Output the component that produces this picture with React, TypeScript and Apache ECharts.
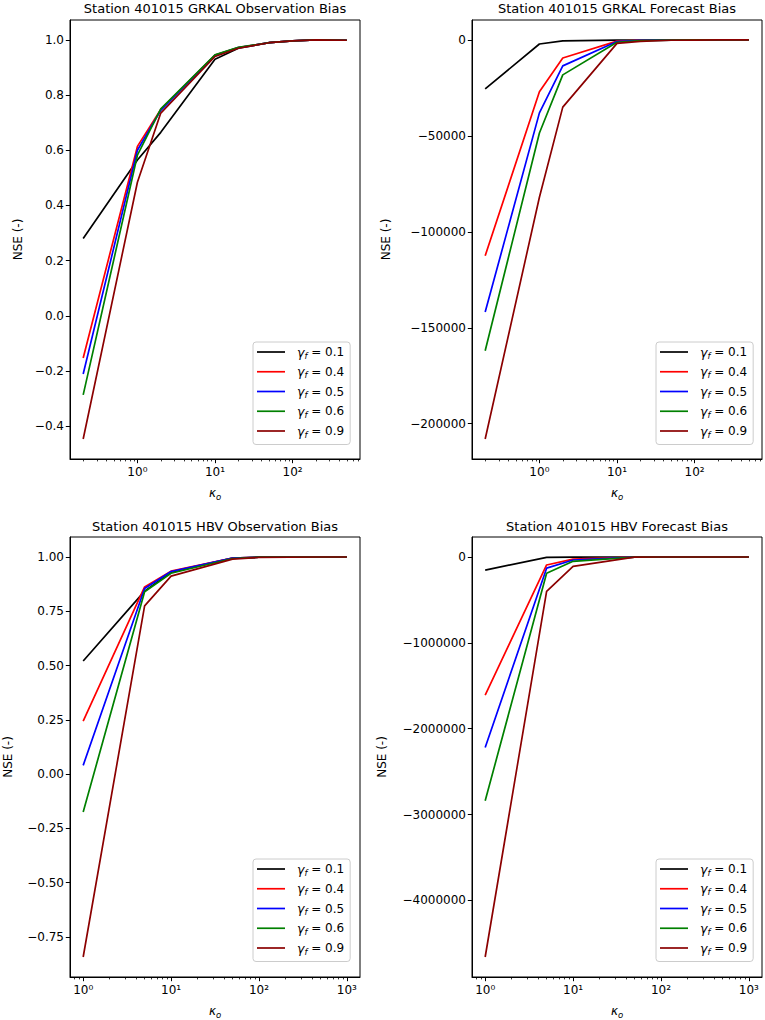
import React, { useEffect, useRef } from "react";
import * as echarts from "echarts";

// ---------- data ----------
const kappaTop = [0.2, 1, 2, 10, 20, 50, 100, 200, 500];
const kappaBottom = [1, 5, 10, 50, 100, 500, 1000];

const gammaLabels = ["0.1", "0.4", "0.5", "0.6", "0.9"];
const gammaColors = ["#000000", "#ff0000", "#0000ff", "#008000", "#8b0000"];

const grkalObs = [
  [0.28, 0.565, 0.665, 0.93, 0.97, 0.99, 0.997, 1.0, 0.999],
  [-0.153, 0.614, 0.748, 0.945, 0.972, 0.99, 0.997, 1.0, 0.999],
  [-0.211, 0.6, 0.745, 0.944, 0.972, 0.99, 0.997, 1.0, 0.999],
  [-0.287, 0.582, 0.75, 0.946, 0.973, 0.99, 0.997, 1.0, 0.999],
  [-0.447, 0.484, 0.735, 0.94, 0.97, 0.99, 0.997, 1.0, 0.999],
];
const grkalFc = [
  [-25500, -2100, -500, -100, -30, -10, 0, 0, 0],
  [-112500, -27000, -9400, -600, -150, -50, 0, 0, 0],
  [-141800, -38000, -13500, -800, -200, -60, 0, 0, 0],
  [-162000, -48500, -18200, -1200, -300, -80, 0, 0, 0],
  [-208000, -82000, -35000, -1800, -700, -150, -50, 0, 0],
];
const hbvObs = [
  [0.521, 0.843, 0.93, 0.995, 0.999, 1.0, 1.0],
  [0.244, 0.862, 0.935, 0.995, 0.999, 1.0, 1.0],
  [0.04, 0.855, 0.933, 0.995, 0.999, 1.0, 1.0],
  [-0.175, 0.84, 0.925, 0.993, 0.999, 1.0, 1.0],
  [-0.843, 0.775, 0.912, 0.99, 0.998, 1.0, 1.0],
];
const hbvFc = [
  [-152000, -5000, -1500, -100, 0, 0, 0],
  [-1610000, -93000, -25000, -500, 0, 0, 0],
  [-2220000, -130000, -35000, -700, 0, 0, 0],
  [-2840000, -190000, -50000, -1000, 0, 0, 0],
  [-4660000, -400000, -110000, -2000, -200, 0, 0],
];

const titles = [
  "Station 401015 GRKAL Observation Bias",
  "Station 401015 GRKAL Forecast Bias",
  "Station 401015 HBV Observation Bias",
  "Station 401015 HBV Forecast Bias",
];
const yTicksTL = [-0.4, -0.2, 0, 0.2, 0.4, 0.6, 0.8, 1.0];
const yTicksTR = [-200000, -150000, -100000, -50000, 0];
const yTicksBL = [-0.75, -0.5, -0.25, 0, 0.25, 0.5, 0.75, 1.0];
const yTicksBR = [-4000000, -3000000, -2000000, -1000000, 0];
const xExpTop = [0, 1, 2];
const xExpBottom = [0, 1, 2, 3];

// ---------- helpers ----------
const FONT = "DejaVu Sans";
const SUP: Record<string, string> = { "0": "⁰", "1": "¹", "2": "²", "3": "³" };
const minus = (s: string) => s.replace("-", "−");

function padRange(vals: number[]): [number, number] {
  const lo = Math.min(...vals);
  const hi = Math.max(...vals);
  const m = (hi - lo) * 0.05;
  return [lo - m, hi + m];
}

function minorLogs(range: [number, number]): number[] {
  const out: number[] = [];
  for (let k = -2; k <= 4; k++) {
    for (let m = 2; m <= 9; m++) {
      const v = Math.log10(m * Math.pow(10, k));
      if (v >= range[0] && v <= range[1]) out.push(v);
    }
  }
  return out;
}

type Panel = {
  kappa: number[];
  series: number[][];
  yTicks: number[];
  yFmt: (v: number) => string;
  xExp: number[];
  grid: { left: number; top: number; width: number; height: number };
  nameGap: number;
  legend: { left: number; top: number };
  title: { x: number; y: number };
};

const panels: Panel[] = [
  {
    kappa: kappaTop,
    series: grkalObs,
    yTicks: yTicksTL,
    yFmt: (v) => minus(v.toFixed(1)),
    xExp: xExpTop,
    grid: { left: 70, top: 20, width: 290, height: 439 },
    nameGap: 46,
    legend: { left: 253, top: 342 },
    title: { x: 215, y: 8 },
  },
  {
    kappa: kappaTop,
    series: grkalFc,
    yTicks: yTicksTR,
    yFmt: (v) => minus(String(v)),
    xExp: xExpTop,
    grid: { left: 472, top: 20, width: 290, height: 439 },
    nameGap: 80,
    legend: { left: 656, top: 342 },
    title: { x: 617, y: 8 },
  },
  {
    kappa: kappaBottom,
    series: hbvObs,
    yTicks: yTicksBL,
    yFmt: (v) => minus(v.toFixed(2)),
    xExp: xExpBottom,
    grid: { left: 70, top: 537, width: 290, height: 440 },
    nameGap: 56,
    legend: { left: 253, top: 859 },
    title: { x: 215, y: 526 },
  },
  {
    kappa: kappaBottom,
    series: hbvFc,
    yTicks: yTicksBR,
    yFmt: (v) => minus(String(v)),
    xExp: xExpBottom,
    grid: { left: 472, top: 537, width: 290, height: 440 },
    nameGap: 84,
    legend: { left: 656, top: 859 },
    title: { x: 617, y: 526 },
  },
];

function buildOption() {
  const grids: any[] = [];
  const xAxes: any[] = [];
  const minorAxes: any[] = [];
  const yAxes: any[] = [];
  const series: any[] = [];
  const legends: any[] = [];
  const graphics: any[] = [];
  const names = gammaLabels.map((g) => `γf = ${g}`);

  panels.forEach((p, i) => {
    grids.push({
      ...p.grid,
      show: true,
      borderColor: "#000",
      borderWidth: 1,
      backgroundColor: "#fff",
    });
    const logs = p.kappa.map((k) => Math.log10(k));
    const xr = padRange(logs);
    const yr = padRange(p.series.flat());

    xAxes.push({
      type: "value",
      gridIndex: i,
      position: "bottom",
      min: xr[0],
      max: xr[1],
      splitLine: { show: false },
      axisLine: { show: true, onZero: false, lineStyle: { color: "#000", width: 1 } },
      axisTick: {
        show: true,
        length: 4.2,
        inside: false,
        customValues: p.xExp,
        lineStyle: { color: "#000", width: 1 },
      },
      axisLabel: {
        show: true,
        customValues: p.xExp,
        margin: 7,
        color: "#000",
        fontFamily: FONT,
        fontSize: 12,
        formatter: (v: number) => "10" + (SUP[String(Math.round(v))] || ""),
      },
      name: "{k|κ}{o|o}",
      nameLocation: "middle",
      nameGap: 26,
      nameTextStyle: {
        color: "#000",
        fontFamily: FONT,
        rich: {
          k: { fontSize: 12, fontStyle: "italic", fontFamily: FONT, lineHeight: 16, color: "#000" },
          o: {
            fontSize: 8.5,
            fontStyle: "italic",
            fontFamily: FONT,
            lineHeight: 16,
            verticalAlign: "bottom",
            color: "#000",
          },
        },
      },
    });
    minorAxes.push({
      type: "value",
      gridIndex: i,
      position: "bottom",
      min: xr[0],
      max: xr[1],
      splitLine: { show: false },
      axisLine: { show: false, onZero: false },
      axisLabel: { show: false },
      axisTick: {
        show: true,
        length: 2.4,
        inside: false,
        customValues: minorLogs(xr),
        lineStyle: { color: "#000", width: 0.8 },
      },
    });
    yAxes.push({
      type: "value",
      gridIndex: i,
      position: "left",
      min: yr[0],
      max: yr[1],
      splitLine: { show: false },
      axisLine: { show: true, onZero: false, lineStyle: { color: "#000", width: 1 } },
      axisTick: {
        show: true,
        length: 4.2,
        inside: false,
        customValues: p.yTicks,
        lineStyle: { color: "#000", width: 1 },
      },
      axisLabel: {
        show: true,
        customValues: p.yTicks,
        margin: 6,
        color: "#000",
        fontFamily: FONT,
        fontSize: 12,
        formatter: (v: number) => p.yFmt(v),
      },
      name: "NSE (-)",
      nameLocation: "middle",
      nameGap: p.nameGap,
      nameRotate: 90,
      nameTextStyle: { color: "#000", fontFamily: FONT, fontSize: 12 },
    });

    p.series.forEach((vals, j) => {
      series.push({
        type: "line",
        name: names[j],
        xAxisIndex: i,
        yAxisIndex: i,
        data: vals.map((v, idx) => [logs[idx], v]),
        symbol: "none",
        showSymbol: false,
        lineStyle: { color: gammaColors[j], width: 1.7 },
        itemStyle: { color: gammaColors[j] },
        emphasis: { disabled: true },
        clip: true,
        z: 2 + j,
      });
    });

    legends.push({
      orient: "vertical",
      left: p.legend.left,
      top: p.legend.top,
      data: names,
      icon: "rect",
      itemWidth: 28,
      itemHeight: 1.7,
      itemGap: 5.25,
      padding: [3.5, 6, 5.5, 4],
      backgroundColor: "rgba(255,255,255,0.8)",
      borderColor: "#cccccc",
      borderWidth: 1,
      borderRadius: 3,
      selectedMode: false,
      formatter: (name: string) => `{g|γ}{s|f}{t| = ${name.split("= ")[1]}}`,
      textStyle: {
        color: "#000",
        fontFamily: FONT,
        fontSize: 12,
        rich: {
          g: {
            fontSize: 12.5,
            fontStyle: "italic",
            fontFamily: FONT,
            lineHeight: 16,
            padding: [0, 0, 0, 7],
            color: "#000",
          },
          s: {
            fontSize: 8.5,
            fontStyle: "italic",
            fontFamily: FONT,
            lineHeight: 16,
            verticalAlign: "bottom",
            color: "#000",
          },
          t: { fontSize: 12, fontFamily: FONT, lineHeight: 16, color: "#000" },
        },
      },
    });

    graphics.push({
      type: "text",
      x: p.title.x,
      y: p.title.y,
      style: {
        text: titles[i],
        fill: "#000",
        font: `13px "${FONT}"`,
        align: "center",
        verticalAlign: "middle",
      },
    });
  });

  return {
    animation: false,
    backgroundColor: "#ffffff",
    textStyle: { fontFamily: FONT },
    grid: grids,
    xAxis: [...xAxes, ...minorAxes],
    yAxis: yAxes,
    series,
    legend: legends,
    graphic: graphics,
  };
}

export default function App() {
  const ref = useRef<HTMLDivElement>(null);
  useEffect(() => {
    if (!ref.current) return;
    const chart = echarts.init(ref.current, null, { renderer: "svg" });
    chart.setOption(buildOption() as any);
    return () => chart.dispose();
  }, []);
  return (
    <div
      ref={ref}
      style={{ position: "absolute", left: 0, top: 0, width: 765, height: 1020, background: "#fff" }}
    />
  );
}
